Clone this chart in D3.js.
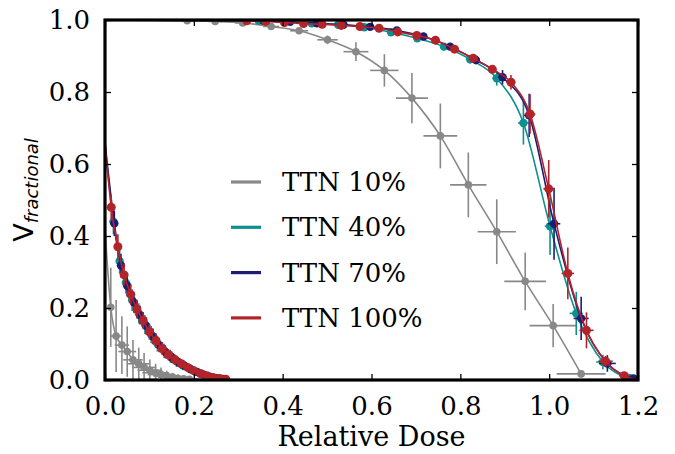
<!DOCTYPE html>
<html>
<head>
<meta charset="utf-8">
<script src="https://cdn.jsdelivr.net/npm/d3@7"></script>
<style>
  body { margin: 0; background: #fff; }
  svg { display: block; }
  .serif { font-family: "DejaVu Serif", "Liberation Serif", serif; }
</style>
</head>
<body>
<div id="chart"></div>
<script>
"use strict";

// tick labels
var xTicks = [0, 0.2, 0.4, 0.6, 0.8, 1.0, 1.2];
var yTicks = [0, 0.2, 0.4, 0.6, 0.8, 1.0];
var legendNames = ["TTN 10%", "TTN 40%", "TTN 70%", "TTN 100%"];

// TTN 10% (grey) - upper curve
var g10hiX    = [0, 0.185, 0.248, 0.31, 0.374, 0.437, 0.501, 0.565, 0.629, 0.691, 0.755, 0.818, 0.882, 0.946, 1.009, 1.072];
var g10hiY    = [1.0, 0.998, 0.996, 0.992, 0.982, 0.970, 0.945, 0.912, 0.860, 0.783, 0.678, 0.542, 0.412, 0.274, 0.151, 0.017];
var g10hiXErr = [null, 0.015, 0.016, 0.017, 0.018, 0.02, 0.023, 0.028, 0.032, 0.036, 0.038, 0.041, 0.043, 0.047, 0.053, 0.055];
var g10hiYErr = [null, 0.002, 0.003, 0.004, 0.006, 0.008, 0.012, 0.026, 0.045, 0.07, 0.09, 0.09, 0.09, 0.08, 0.06, 0.01];
// TTN 10% (grey) - lower curve
var g10loX    = [0, 0.013, 0.025, 0.038, 0.050, 0.063, 0.076, 0.088, 0.101, 0.114, 0.126, 0.139, 0.152, 0.164, 0.177, 0.190, 0.202];
var g10loY    = [0.42, 0.202, 0.122, 0.097, 0.079, 0.056, 0.045, 0.035, 0.027, 0.020, 0.015, 0.011, 0.008, 0.005, 0.003, 0.002, 0.0];
var g10loXErr = [null, 0.006, 0.012, 0.016, 0.02, 0.022, 0.024, 0.026, 0.028, 0.03, 0.03, 0.03, 0.032, 0.032, 0.033, 0.033, null];
var g10loYErr = [null, 0.11, 0.1, 0.08, 0.07, 0.055, 0.045, 0.04, 0.03, 0.025, 0.02, 0.015, 0.012, 0.01, 0.008, 0.006, null];

// TTN 40% (teal)
var t40hiX    = [0, 0.346, 0.405, 0.465, 0.525, 0.584, 0.644, 0.703, 0.763, 0.822, 0.882, 0.942, 1.002, 1.061, 1.121, 1.18, 1.2];
var t40hiY    = [1.0, 0.998, 0.995, 0.991, 0.987, 0.98, 0.966, 0.949, 0.926, 0.891, 0.838, 0.714, 0.427, 0.185, 0.05, 0.006, 0.0];
var t40hiXErr = [null, 0.004, 0.004, 0.005, 0.005, 0.006, 0.006, 0.007, 0.008, 0.009, 0.01, 0.012, 0.012, 0.015, 0.015, 0.01, null];
var t40hiYErr = [null, 0.002, 0.003, 0.003, 0.004, 0.005, 0.006, 0.008, 0.01, 0.012, 0.02, 0.06, 0.08, 0.06, 0.02, 0.005, null];
var t40loX    = [0, 0.019, 0.033, 0.047, 0.061, 0.076, 0.090, 0.104, 0.118, 0.133, 0.147, 0.161, 0.175, 0.19, 0.204, 0.218, 0.232, 0.247, 0.261, 0.275];
var t40loY    = [0.65, 0.44, 0.33, 0.27, 0.222, 0.185, 0.154, 0.126, 0.101, 0.081, 0.066, 0.052, 0.041, 0.032, 0.023, 0.016, 0.01, 0.006, 0.003, 0.0];
var t40loXErr = [null, 0.004, 0.004, 0.004, 0.004, 0.004, 0.004, 0.004, 0.004, 0.004, 0.004, 0.004, 0.004, 0.004, 0.004, 0.004, 0.004, 0.004, 0.004, null];
var t40loYErr = [null, 0.035, 0.035, 0.03, 0.03, 0.028, 0.026, 0.024, 0.022, 0.02, 0.018, 0.016, 0.014, 0.012, 0.01, 0.008, 0.006, 0.004, 0.003, null];

// TTN 70% (navy)
var n70hiX    = [0, 0.357, 0.417, 0.477, 0.537, 0.597, 0.657, 0.717, 0.777, 0.835, 0.895, 0.955, 1.011, 1.072, 1.131, 1.19, 1.2];
var n70hiY    = [1.0, 0.998, 0.995, 0.991, 0.987, 0.981, 0.971, 0.954, 0.926, 0.889, 0.841, 0.735, 0.434, 0.171, 0.046, 0.004, 0.0];
var n70hiXErr = [null, 0.004, 0.004, 0.005, 0.005, 0.006, 0.006, 0.007, 0.008, 0.009, 0.01, 0.012, 0.014, 0.017, 0.019, 0.01, null];
var n70hiYErr = [null, 0.002, 0.003, 0.003, 0.004, 0.005, 0.006, 0.008, 0.01, 0.012, 0.02, 0.06, 0.1, 0.06, 0.023, 0.005, null];
var n70loX    = [0, 0.021, 0.036, 0.050, 0.065, 0.079, 0.093, 0.108, 0.122, 0.136, 0.150, 0.165, 0.179, 0.193, 0.208, 0.222, 0.236, 0.251, 0.265, 0.28];
var n70loY    = [0.66, 0.435, 0.318, 0.262, 0.215, 0.18, 0.15, 0.121, 0.097, 0.078, 0.063, 0.05, 0.04, 0.03, 0.022, 0.015, 0.009, 0.005, 0.003, 0.0];
var n70loXErr = [null, 0.004, 0.004, 0.004, 0.004, 0.004, 0.004, 0.004, 0.004, 0.004, 0.004, 0.004, 0.004, 0.004, 0.004, 0.004, 0.004, 0.004, 0.004, null];
var n70loYErr = [null, 0.035, 0.033, 0.03, 0.028, 0.026, 0.024, 0.022, 0.02, 0.018, 0.016, 0.014, 0.012, 0.011, 0.01, 0.008, 0.006, 0.004, 0.003, null];

// TTN 100% (red)
var r100hiX    = [0, 0.319, 0.362, 0.404, 0.447, 0.489, 0.532, 0.574, 0.617, 0.659, 0.702, 0.744, 0.787, 0.829, 0.872, 0.914, 0.957, 0.999, 1.042, 1.084, 1.127, 1.169, 1.2];
var r100hiY    = [1.0, 0.998, 0.996, 0.993, 0.99, 0.988, 0.985, 0.982, 0.977, 0.967, 0.957, 0.944, 0.919, 0.894, 0.863, 0.827, 0.739, 0.531, 0.296, 0.138, 0.052, 0.012, 0.0];
var r100hiXErr = [null, 0.004, 0.004, 0.004, 0.005, 0.005, 0.005, 0.006, 0.006, 0.006, 0.007, 0.007, 0.008, 0.008, 0.009, 0.01, 0.012, 0.012, 0.014, 0.016, 0.016, 0.012, null];
var r100hiYErr = [null, 0.002, 0.002, 0.003, 0.003, 0.004, 0.004, 0.005, 0.005, 0.006, 0.006, 0.007, 0.008, 0.01, 0.012, 0.02, 0.055, 0.08, 0.072, 0.05, 0.015, 0.005, null];
var r100loX    = [0, 0.014, 0.029, 0.043, 0.058, 0.072, 0.086, 0.100, 0.115, 0.129, 0.143, 0.158, 0.172, 0.186, 0.200, 0.215, 0.229, 0.243, 0.258, 0.272, 0.286];
var r100loY    = [0.66, 0.48, 0.37, 0.292, 0.238, 0.197, 0.165, 0.134, 0.109, 0.087, 0.070, 0.056, 0.045, 0.035, 0.026, 0.018, 0.012, 0.007, 0.004, 0.002, 0.0];
var r100loXErr = [null, 0.004, 0.004, 0.004, 0.004, 0.004, 0.004, 0.004, 0.004, 0.004, 0.004, 0.004, 0.004, 0.004, 0.004, 0.004, 0.004, 0.004, 0.004, 0.004, null];
var r100loYErr = [null, 0.035, 0.035, 0.03, 0.028, 0.026, 0.024, 0.022, 0.02, 0.018, 0.016, 0.014, 0.012, 0.011, 0.01, 0.008, 0.006, 0.004, 0.003, 0.002, null];

var colors = ["#888888", "#0e8f8f", "#1c1c74", "#b3242a"];

function pts(xs, ys, xe, ye) {
    return xs.map(function(x, i) { return {x: x, y: ys[i], xe: xe[i], ye: ye[i]}; });
}

var series = [
    {c: 0, r: 3.8, sets: [pts(g10hiX, g10hiY, g10hiXErr, g10hiYErr), pts(g10loX, g10loY, g10loXErr, g10loYErr)]},
    {c: 1, r: 4.2, sets: [pts(t40hiX, t40hiY, t40hiXErr, t40hiYErr), pts(t40loX, t40loY, t40loXErr, t40loYErr)]},
    {c: 2, r: 4.2, sets: [pts(n70hiX, n70hiY, n70hiXErr, n70hiYErr), pts(n70loX, n70loY, n70loXErr, n70loYErr)]},
    {c: 3, r: 4.5, sets: [pts(r100hiX, r100hiY, r100hiXErr, r100hiYErr), pts(r100loX, r100loY, r100loXErr, r100loYErr)]}
];

var W = 675, H = 454;
var margin = {top: 20, right: 37, bottom: 74, left: 105};
var width = W - margin.left - margin.right,
    height = H - margin.top - margin.bottom;

var svg = d3.select("#chart").append("svg")
    .attr("width", W).attr("height", H);
var g = svg.append("g").attr("transform", `translate(${margin.left}, ${margin.top})`);

var x = d3.scaleLinear().domain([0, 1.2]).range([0, width]);
var y = d3.scaleLinear().domain([0, 1.0]).range([height, 0]);

g.append("clipPath").attr("id", "clip")
    .append("rect").attr("width", width).attr("height", height);

var plot = g.append("g").attr("clip-path", "url(#clip)");

var line = d3.line().x(d => x(d.x)).y(d => y(d.y)).curve(d3.curveMonotoneX);

series.forEach(function(s) {
    var col = colors[s.c];
    var grp = plot.append("g");
    s.sets.forEach(function(data) {
        grp.append("path").datum(data)
            .attr("fill", "none").attr("stroke", col)
            .attr("stroke-width", 1.6).attr("d", line);
        var mk = data.filter(d => d.xe !== null);
        // error bars
        grp.selectAll(null).data(mk).join("line")
            .attr("x1", d => x(d.x - d.xe)).attr("x2", d => x(d.x + d.xe))
            .attr("y1", d => y(d.y)).attr("y2", d => y(d.y))
            .attr("stroke", col).attr("stroke-width", 1.6);
        grp.selectAll(null).data(mk).join("line")
            .attr("x1", d => x(d.x)).attr("x2", d => x(d.x))
            .attr("y1", d => y(d.y - d.ye)).attr("y2", d => y(d.y + d.ye))
            .attr("stroke", col).attr("stroke-width", 1.6);
        grp.selectAll(null).data(mk).join("circle")
            .attr("cx", d => x(d.x)).attr("cy", d => y(d.y))
            .attr("r", s.r).attr("fill", col);
    });
});

// axes, ticks pointing inward on all four sides
var fmt = d3.format(".1f");
var axB = g.append("g").attr("transform", `translate(0, ${height})`)
    .call(d3.axisBottom(x).tickValues(xTicks).tickFormat(fmt).tickSizeInner(-6).tickSizeOuter(0).tickPadding(17));
var axL = g.append("g")
    .call(d3.axisLeft(y).tickValues(yTicks).tickFormat(fmt).tickSizeInner(-6).tickSizeOuter(0).tickPadding(15));
var axT = g.append("g")
    .call(d3.axisTop(x).tickValues(xTicks).tickFormat("").tickSizeInner(-6).tickSizeOuter(0));
var axR = g.append("g").attr("transform", `translate(${width}, 0)`)
    .call(d3.axisRight(y).tickValues(yTicks).tickFormat("").tickSizeInner(-6).tickSizeOuter(0));

[axB, axL, axT, axR].forEach(function(a) {
    a.attr("font-family", null).attr("font-size", null);
    a.select(".domain").remove();
    a.selectAll(".tick line").attr("stroke", "#000").attr("stroke-width", 1.3);
    a.selectAll("text").attr("class", "serif").style("font-size", "26px").attr("fill", "#000");
});

g.append("rect").attr("width", width).attr("height", height)
    .attr("fill", "none").attr("stroke", "#000").attr("stroke-width", 3.2);

// axis titles
svg.append("text")
    .attr("class", "serif")
    .attr("x", margin.left + width / 2).attr("y", 446)
    .attr("text-anchor", "middle")
    .style("font-size", "27px")
    .text("Relative Dose");

var yl = svg.append("text")
    .attr("transform", "translate(33, 190) rotate(-90)")
    .attr("text-anchor", "middle")
    .style("font-family", "'DejaVu Sans', sans-serif").style("font-size", "27px");
yl.append("tspan").text("V");
yl.append("tspan").style("font-size", "18px").attr("font-style", "italic")
    .attr("dy", 5).text("fractional");

// legend
var lg = g.append("g").attr("transform", "translate(126, 162)");
legendNames.forEach(function(name, i) {
    var row = lg.append("g").attr("transform", `translate(0, ${i * 45.3})`);
    row.append("line").attr("x1", 0).attr("x2", 30).attr("y1", 0).attr("y2", 0)
        .attr("stroke", colors[i]).attr("stroke-width", 3.2);
    row.append("text").attr("class", "serif").attr("x", 51).attr("y", 9)
        .style("font-size", "26px")
        .text(name);
});
</script>
</body>
</html>
